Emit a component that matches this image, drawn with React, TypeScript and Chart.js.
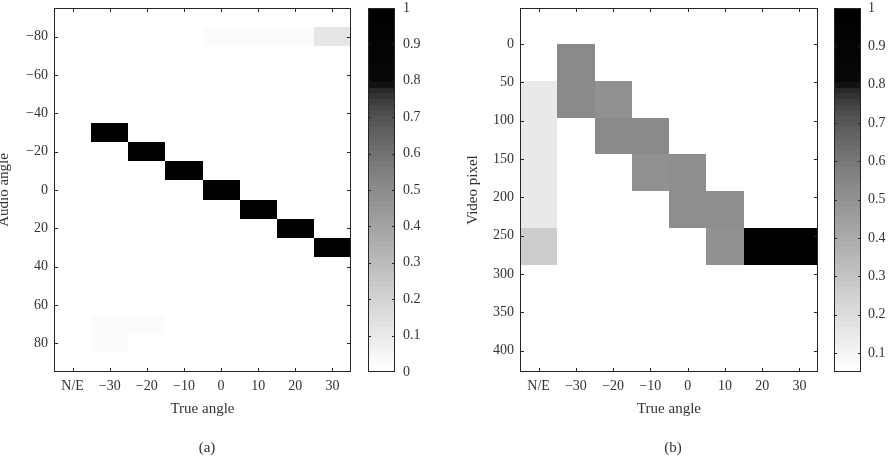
import React, { useEffect, useRef } from 'react';
import { Chart, registerables } from 'chart.js';
Chart.register(...registerables);

// ---- data ----
const xLabels = ['N/E', '−30', '−20', '−10', '0', '10', '20', '30'];
const yTicksA = [-80, -60, -40, -20, 0, 20, 40, 60, 80];
const yTicksB = [0, 50, 100, 150, 200, 250, 300, 350, 400];
const cbTicksA = [0, 0.1, 0.2, 0.3, 0.4, 0.5, 0.6, 0.7, 0.8, 0.9, 1];
const cbTicksB = [0.1, 0.2, 0.3, 0.4, 0.5, 0.6, 0.7, 0.8, 0.9, 1];

// panel (a): column index, audio angle (bin centre, 10° bins), value
const aCol = [1, 2, 3, 4, 5, 6, 7, 4, 5, 6, 7, 1, 2, 1];
const aRow = [-30, -20, -10, 0, 10, 20, 30, -80, -80, -80, -80, 70, 70, 80];
const aVal = [1, 1, 1, 1, 1, 1, 1, 0.03, 0.03, 0.03, 0.12, 0.03, 0.03, 0.03];
const aBin = 10;
const climA: [number, number] = [0, 1];

// panel (b): column index, video pixel bin start (48 px bins), value
const bCol = [0, 0, 0, 0, 0, 0, 1, 1, 2, 2, 3, 3, 4, 4, 5, 5, 6, 7];
const bRow = [0, 48, 96, 144, 192, 240, 0, 48, 48, 96, 96, 144, 144, 192, 192, 240, 240, 240];
const bVal = [0.06, 0.14, 0.14, 0.14, 0.14, 0.27, 0.53, 0.53, 0.5, 0.53, 0.53, 0.5, 0.52, 0.52, 0.52, 0.5, 1, 1];
const bBin = 48;
const climB: [number, number] = [0.05, 1];

// ---- style ----
const FONT = "'Liberation Serif', 'Times New Roman', 'DejaVu Serif', serif";
const TEXT = '#333333';
const LINE = '#262626';
const cmapT = [0, 0.1, 0.2, 0.3, 0.4, 0.5, 0.6, 0.7, 0.75, 0.78, 0.8, 1];
const cmapG = [255, 232, 210, 186, 163, 140, 114, 84, 60, 38, 8, 0];

function grayAt(t: number): string {
  t = Math.max(0, Math.min(1, t));
  const k = Math.min(63, Math.floor(t * 64));
  const tq = k / 63;
  let g = cmapG[cmapG.length - 1];
  for (let i = 0; i < cmapT.length - 1; i++) {
    if (tq >= cmapT[i] && tq <= cmapT[i + 1]) {
      const f = (tq - cmapT[i]) / (cmapT[i + 1] - cmapT[i]);
      g = cmapG[i] + f * (cmapG[i + 1] - cmapG[i]);
      break;
    }
  }
  const r = Math.round(g);
  return `rgb(${r},${r},${r})`;
}
function colorFor(v: number, clim: [number, number]) {
  return grayAt((v - clim[0]) / (clim[1] - clim[0]));
}

const framePlugin = {
  id: 'frame',
  afterDraw(chart: any, _a: any, opts: any) {
    const { ctx, chartArea: a } = chart;
    const tl = opts.tick ?? 4;
    ctx.save();
    ctx.strokeStyle = LINE;
    ctx.lineWidth = 1;
    ctx.strokeRect(a.left + 0.5, a.top + 0.5, a.right - a.left - 1, a.bottom - a.top - 1);
    ctx.beginPath();
    if (opts.xTicks) {
      const xs = chart.scales.x;
      for (const t of xs.ticks) {
        const px = Math.round(xs.getPixelForValue(t.value)) + 0.5;
        ctx.moveTo(px, a.bottom); ctx.lineTo(px, a.bottom - tl);
        ctx.moveTo(px, a.top); ctx.lineTo(px, a.top + tl);
      }
    }
    const ys = chart.scales.y;
    for (const t of ys.ticks) {
      const py = Math.round(ys.getPixelForValue(t.value)) + 0.5;
      if (py <= a.top + 1 || py >= a.bottom - 1) continue;
      ctx.moveTo(a.left, py); ctx.lineTo(a.left + tl, py);
      ctx.moveTo(a.right, py); ctx.lineTo(a.right - tl, py);
    }
    ctx.stroke();
    ctx.restore();
  },
};

type Cell = { x: number; y0: number; y1: number; v: number };

function cellsPlugin(cells: Cell[], clim: [number, number]) {
  return {
    id: 'cells',
    beforeDatasetsDraw(chart: any) {
      const { ctx } = chart;
      const xs = chart.scales.x, ys = chart.scales.y;
      ctx.save();
      for (const c of cells) {
        const xa = Math.round(xs.getPixelForValue(c.x - 0.5)), xb = Math.round(xs.getPixelForValue(c.x + 0.5));
        const ya = Math.round(ys.getPixelForValue(c.y0)), yb = Math.round(ys.getPixelForValue(c.y1));
        ctx.fillStyle = colorFor(c.v, clim);
        ctx.fillRect(Math.min(xa, xb), Math.min(ya, yb), Math.abs(xb - xa), Math.abs(yb - ya));
      }
      ctx.restore();
    },
  };
}

function colorbarPlugin(clim: [number, number]) {
  return {
    id: 'cbar',
    beforeDatasetsDraw(chart: any) {
      const { ctx, chartArea: a } = chart;
      const ys = chart.scales.y;
      ctx.save();
      for (let py = Math.floor(a.top); py < a.bottom; py++) {
        const v = ys.getValueForPixel(py + 0.5);
        ctx.fillStyle = colorFor(v, clim);
        ctx.fillRect(a.left, py, a.right - a.left, 1);
      }
      ctx.restore();
    },
  };
}

const tickFont = { family: FONT, size: 14 };
const titleFont = { family: FONT, size: 15 };
const fmtSigned = (v: number) => (v < 0 ? '−' + Math.abs(v) : String(v));

function heatmapConfig(p: {
  cells: Cell[]; clim: [number, number]; yMin: number; yMax: number; yTicks: number[];
  yTitle: string; yTitlePad: number; yWidth: number; rightPad: number;
}): any {
  return {
    type: 'scatter',
    data: { datasets: [{ data: [] }] },
    plugins: [cellsPlugin(p.cells, p.clim), framePlugin],
    options: {
      responsive: false,
      animation: false,
      events: [],
      layout: { padding: { top: 8, right: p.rightPad, left: 0, bottom: 0 } },
      plugins: { legend: { display: false }, tooltip: { enabled: false }, frame: { tick: 4, xTicks: true } },
      scales: {
        x: {
          type: 'linear', min: -0.5, max: xLabels.length - 0.5,
          afterBuildTicks: (s: any) => { s.ticks = xLabels.map((_, i) => ({ value: i })); },
          afterFit: (s: any) => { s.height = 88; s.paddingLeft = 0; s.paddingRight = 0; },
          ticks: { callback: (_v: any, i: number) => xLabels[i], font: tickFont, color: TEXT, padding: 6, maxRotation: 0, autoSkip: false },
          grid: { display: false, drawTicks: false },
          border: { display: false },
          title: { display: true, text: 'True angle', font: titleFont, color: TEXT, padding: { top: 0, bottom: 42 } },
        },
        y: {
          type: 'linear', reverse: true, min: p.yMin, max: p.yMax,
          afterBuildTicks: (s: any) => { s.ticks = p.yTicks.map((v) => ({ value: v })); },
          afterFit: (s: any) => { s.width = p.yWidth; s.paddingTop = 0; s.paddingBottom = 0; },
          ticks: { callback: (v: any) => fmtSigned(Number(v)), font: tickFont, color: TEXT, padding: 6, autoSkip: false },
          grid: { display: false, drawTicks: false },
          border: { display: false },
          title: { display: true, text: p.yTitle, font: titleFont, color: TEXT, padding: { top: p.yTitlePad, bottom: 0 } },
        },
      },
    },
  };
}

function colorbarConfig(clim: [number, number], ticks: number[], yWidth: number, pad: number): any {
  return {
    type: 'scatter',
    data: { datasets: [{ data: [] }] },
    plugins: [colorbarPlugin(clim), framePlugin],
    options: {
      responsive: false,
      animation: false,
      events: [],
      layout: { padding: { top: 8, left: 8, right: 0, bottom: 88 } },
      plugins: { legend: { display: false }, tooltip: { enabled: false }, frame: { tick: 3, xTicks: false } },
      scales: {
        x: { display: false, min: 0, max: 1 },
        y: {
          position: 'right', min: clim[0], max: clim[1],
          afterBuildTicks: (s: any) => { s.ticks = ticks.map((v) => ({ value: v })); },
          afterFit: (s: any) => { s.width = yWidth; s.paddingTop = 0; s.paddingBottom = 0; },
          ticks: { callback: (v: any) => String(Number(Number(v).toFixed(1))), font: tickFont, color: TEXT, padding: pad, autoSkip: false },
          grid: { display: false, drawTicks: false },
          border: { display: false },
        },
      },
    },
  };
}

const cellsA: Cell[] = aCol.map((c, i) => ({ x: c, y0: aRow[i] - aBin / 2, y1: aRow[i] + aBin / 2, v: aVal[i] }));
const cellsB: Cell[] = bCol.map((c, i) => ({ x: c, y0: bRow[i], y1: bRow[i] + bBin, v: bVal[i] }));

export default function App() {
  const refA = useRef<HTMLCanvasElement>(null);
  const refCA = useRef<HTMLCanvasElement>(null);
  const refB = useRef<HTMLCanvasElement>(null);
  const refCB = useRef<HTMLCanvasElement>(null);

  useEffect(() => {
    document.body.style.margin = '0';
    const charts = [
      new Chart(refA.current!, heatmapConfig({ cells: cellsA, clim: climA, yMin: -95, yMax: 95, yTicks: yTicksA, yTitle: 'Audio angle', yTitlePad: -4.5, yWidth: 54, rightPad: 9 })),
      new Chart(refCA.current!, colorbarConfig(climA, cbTicksA, 55, 8)),
      new Chart(refB.current!, heatmapConfig({ cells: cellsB, clim: climB, yMin: -47, yMax: 428, yTicks: yTicksB, yTitle: 'Video pixel', yTitlePad: 14.5, yWidth: 70, rightPad: 8 })),
      new Chart(refCB.current!, colorbarConfig(climB, cbTicksB, 31, 7)),
    ];
    return () => charts.forEach((c) => c.destroy());
  }, []);

  const abs = (left: number): React.CSSProperties => ({ position: 'absolute', left, top: 0, display: 'block' });
  const lab = (cx: number): React.CSSProperties => ({
    position: 'absolute', left: cx - 40, width: 80, top: 438, lineHeight: '18px', textAlign: 'center',
    fontFamily: FONT, fontSize: 15, color: TEXT,
  });

  return (
    <div style={{ position: 'relative', width: 892, height: 460, background: '#fff', overflow: 'hidden' }}>
      <canvas ref={refA} width={360} height={460} style={abs(0)} />
      <canvas ref={refCA} width={90} height={460} style={abs(360)} />
      <canvas ref={refB} width={376} height={460} style={abs(450)} />
      <canvas ref={refCB} width={66} height={460} style={abs(826)} />
      <div style={lab(207)}>(a)</div>
      <div style={lab(673)}>(b)</div>
    </div>
  );
}
